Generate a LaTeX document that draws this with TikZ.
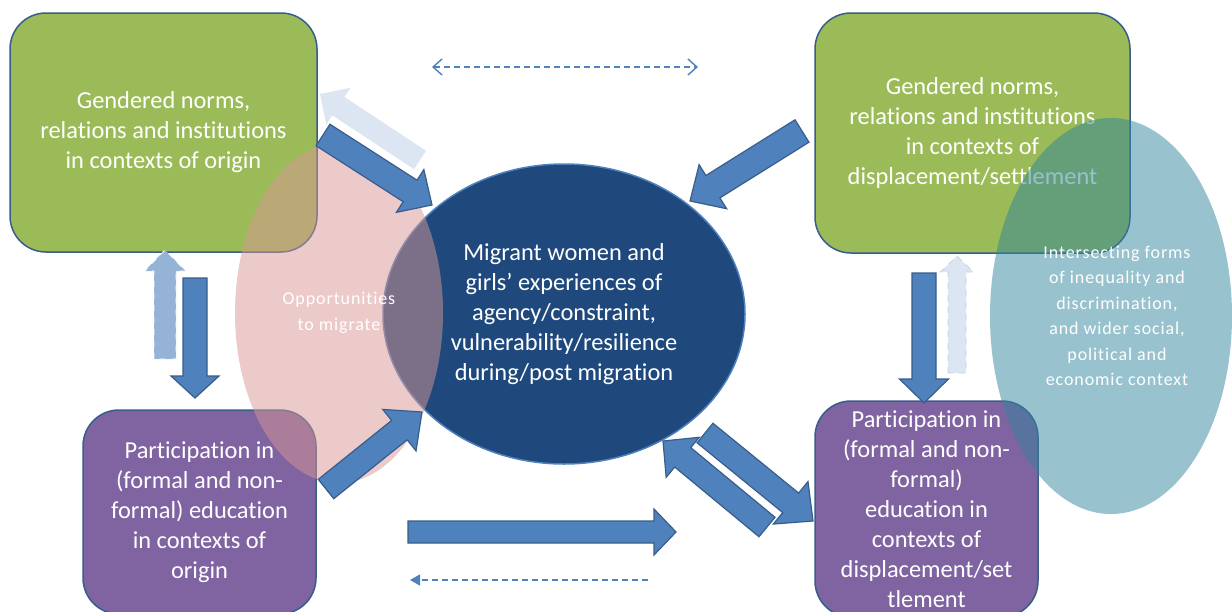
\documentclass[tikz,border=0pt]{standalone}
\usepackage{fontspec}
\setmainfont[RawFeature={-liga;-clig;-calt;-dlig}]{Carlito}
\newfontfamily\spacedfont[LetterSpace=5,RawFeature={-liga;-clig;-calt;-dlig}]{Carlito}
\usetikzlibrary{shapes.geometric,calc,arrows.meta}

\definecolor{normgreen}{HTML}{9BBB59}
\definecolor{edupurple}{HTML}{8064A2}
\definecolor{outlineblue}{HTML}{385D8A}
\definecolor{arrowblue}{HTML}{4F81BD}
\definecolor{darkblue}{HTML}{1F497D}
\definecolor{oppink}{HTML}{D99694}
\definecolor{ctxteal}{HTML}{31859C}
\definecolor{paleblue}{HTML}{DCE6F2}
\definecolor{midpale}{HTML}{95B3D7}

\newcommand\bigfont{\fontsize{12.2}{15}\selectfont}
\newcommand\smallfont{\spacedfont\fontsize{9}{12.75}\selectfont}

% block arrow: [style]{from}{to}{half shaft}{half head}{head length}
\newcommand\blockarrow[6][]{%
  \coordinate (ba) at ($(#3)!#6!(#2)$);
  \filldraw[blockarrow,#1] ($(#2)!#4!90:(#3)$) -- ($(ba)!#4!-90:(#2)$) -- ($(ba)!#5!-90:(#2)$)
    -- (#3) -- ($(ba)!#5!90:(#2)$) -- ($(ba)!#4!90:(#2)$) -- ($(#2)!#4!-90:(#3)$) -- cycle;
}

\tikzset{
  box/.style={draw=outlineblue,line width=0.75pt,rounded corners=18pt,text=white,align=center,inner sep=0pt,font=\bigfont},
  normbox/.style={box,fill=normgreen},
  edubox/.style={box,fill=edupurple},
  blob/.style={ellipse,inner sep=0pt,text=white,align=center,fill opacity=0.5,text opacity=1,font=\smallfont},
  blockarrow/.style={fill=arrowblue,draw=outlineblue,line width=0.6pt,line join=miter},
  palearrow/.style={fill=paleblue,draw=none},
  dashline/.style={arrowblue,line width=0.7pt,dash pattern=on 3pt off 2pt},
}

\begin{document}
\begin{tikzpicture}[x=0.5pt,y=-0.5pt]
\useasboundingbox (0,0) rectangle (1232,611);

\node[normbox,minimum width=153.5pt,minimum height=119.5pt] (origin) at (163.5,132.5)
  {Gendered norms,\\relations and institutions\\in contexts of origin};
\node[normbox,minimum width=157.5pt,minimum height=120pt] (settle) at (972.5,133)
  {Gendered norms,\\relations and institutions\\in contexts of\\displacement/settlement};
\node[edubox,minimum width=116.5pt,minimum height=102pt] (eduorigin) at (199.5,512)
  {Participation in\\(formal and non-\\formal) education\\in contexts of\\origin};
\node[edubox,minimum width=111.5pt,minimum height=108pt] (edusettle) at (926.5,509)
  {Participation in\\(formal and non-\\formal)\\education in\\contexts of\\displacement/set\\tlement};

\node[ellipse,fill=darkblue,draw=arrowblue,line width=0.75pt,minimum width=181pt,minimum height=150pt,
  inner sep=0pt,text=white,align=center,font=\bigfont] (migrant) at (564,314)
  {Migrant women and\\girls’ experiences of\\agency/constraint,\\vulnerability/resilience\\during/post migration};

\node[blob,fill=oppink,minimum width=104pt,minimum height=170pt] (opportunities) at (339,313)
  {Opportunities\\to migrate};

% arrows
\coordinate (tl1) at (323,135);  \coordinate (tl2) at (432,205);
\coordinate (pl1) at (420,160);  \coordinate (pl2) at (320,94);
\coordinate (tr1) at (802,131);  \coordinate (tr2) at (690,201);
\coordinate (ld1) at (195,278);  \coordinate (ld2) at (195,398);
\coordinate (lu1) at (165,359);  \coordinate (lu2) at (165,250);
\coordinate (rd1) at (924,273);  \coordinate (rd2) at (924,403);
\coordinate (ru1) at (957,373);  \coordinate (ru2) at (957,256);
\coordinate (bl1) at (326,489);  \coordinate (bl2) at (422,412);
\coordinate (bh1) at (408,532);  \coordinate (bh2) at (676,532);
\coordinate (ba1) at (767,527);  \coordinate (ba2) at (663,441);
\coordinate (bb1) at (705,433);  \coordinate (bb2) at (813,521);

\blockarrow[palearrow]{pl1}{pl2}{5.5pt}{11pt}{11pt}
\blockarrow{tl1}{tl2}{6.4pt}{12.7pt}{13pt}
\blockarrow{tr1}{tr2}{6.6pt}{13pt}{13.5pt}
\blockarrow[fill=midpale,draw=white,dashed,line width=0.4pt]{lu1}{lu2}{5.5pt}{10.25pt}{10.5pt}
\blockarrow{ld1}{ld2}{6pt}{12pt}{11pt}
\blockarrow{rd1}{rd2}{6pt}{12.25pt}{12pt}
\blockarrow[palearrow,draw=midpale!60,dashed,line width=0.4pt]{ru1}{ru2}{4.5pt}{8.25pt}{8pt}
\blockarrow{bl1}{bl2}{6.2pt}{13.3pt}{14.5pt}
\blockarrow{bh1}{bh2}{5.5pt}{11.5pt}{11pt}
\blockarrow{ba1}{ba2}{6.3pt}{13pt}{12.8pt}
\blockarrow{bb1}{bb2}{6.3pt}{13.7pt}{14.4pt}

\coordinate (dtl) at (432,67);  \coordinate (dtr) at (698,67);
\coordinate (dbr) at (648,580); \coordinate (dbl) at (410,580);
\draw[dashline,{Straight Barb[length=4.5pt,width=8pt]}-{Straight Barb[length=4.5pt,width=8pt]}] (dtl) -- (dtr);
\draw[dashline,-{Triangle[length=5pt,width=5.5pt]}] (dbr) -- (dbl);

\node[blob,fill=ctxteal,minimum width=121pt,minimum height=198pt] (context) at (1111,316)
  {\hspace*{6pt}Intersecting forms\\\hspace*{6pt}of inequality and\\\hspace*{6pt}discrimination,\\\hspace*{6pt}and wider social,\\\hspace*{6pt}political and\\\hspace*{6pt}economic context};
\end{tikzpicture}
\end{document}
